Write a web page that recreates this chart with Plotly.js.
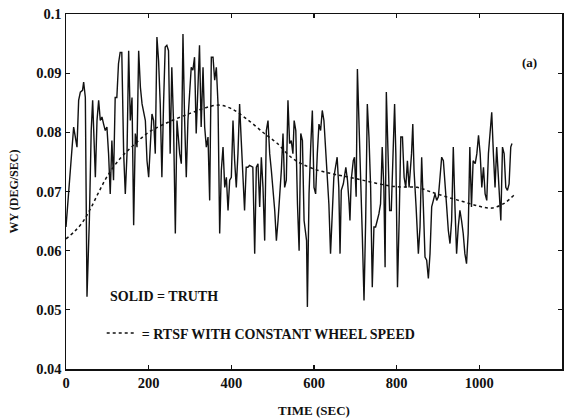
<!DOCTYPE html>
<html>
<head>
<meta charset="utf-8">
<script src="https://cdn.plot.ly/plotly-3.0.1.min.js"></script>
<style>html,body{margin:0;padding:0;background:#fff;}#chart{width:575px;height:420px;}</style>
</head>
<body>
<div id="chart"></div>
<script>
// TRUTH (solid) series
const truthTime = [0,6.5,18.5,22.6,26.6,30.6,34.7,40,42.7,46.8,50.8,56.5,61,64.5,67.7,71,75,79,83,87,91,95,99,103,107,111,115,119,123,127,131,135,139.5,143.5,147.6,151.6,155.6,159.7,163.7,167.7,171.8,175.8,180,184,192,196,200,204,208,212,216,220,224,228,232,236,240,244,248,252,256,260,264.5,268.5,
275,279,283,287,291,295,299,303,307,311,315,319,323,327,331.5,335.5,339.5,343.6,347.6,351.6,355.7,359.7,363.7,367.8,371.8,375.8,379.9,384,388,392,396,400,404,408,412,416,420,424,428,432,436,440,444,452,456.5,460.5,464.5,468.6,472.6,476.6,480.7,484.7,488.7,492.8,496.8,505,509,513,521,525,529,533,537,541,545,549,
552,556,560,564,568,572,576,580,582,584,588,592,596,600,604,608,612,616,620,624,628,632,636,640,644,648,652,656,660,663,666,671,677,681,685,687,690,695,698,702,705,709,713,717,721,725,729,733,737,741,745,749,753,757,761,765,769,772,775,779,783,787,792,795,798,802,806,810,814,818,822,826,830,
836,839,842,847,852.5,856.5,860.5,864.6,868.6,872.6,876.7,880.7,884.7,888.8,892.8,896.8,900.9,904.9,908.9,913,917,921,925,929,933,937,941,945,949,953,957,961,965,969,973,977,981,985,990,994,998,1002,1006,1010,1014,1018,1022,1026,1030,1034,1038,1042,1046,1050,1052,1056,1060,1064,1068,1072,1076,1079];
const truthValue = [0.0640,0.0699,0.0809,0.0792,0.0775,0.0854,0.0868,0.0871,0.0885,0.0859,0.0522,0.0651,0.0803,0.0854,0.0792,0.0724,0.0820,0.0854,0.0820,0.0826,0.0814,0.0803,0.0809,0.0764,0.0696,0.0786,0.0719,0.0859,0.0859,0.0916,0.0935,0.0935,0.0764,0.0696,0.0764,0.0938,0.0820,0.0859,0.0643,0.0798,0.0775,0.0938,0.0876,0.0848,0.0820,0.0752,0.0724,0.0775,0.0831,0.0820,0.0764,0.0961,0.0921,0.0848,0.0724,0.0848,0.0944,0.0947,0.0938,0.0764,0.0910,0.0820,0.0629,0.0820,
0.0764,0.0747,0.0966,0.0820,0.0724,0.0820,0.0876,0.0910,0.0905,0.0927,0.0798,0.0876,0.0947,0.0809,0.0910,0.0809,0.0775,0.0792,0.0685,0.0927,0.0927,0.0888,0.0910,0.0848,0.0629,0.0736,0.0775,0.0707,0.0724,0.0668,0.0719,0.0724,0.0820,0.0752,0.0707,0.0764,0.0848,0.0786,0.0736,0.0668,0.0741,0.0741,0.0744,0.0741,0.0595,0.0741,0.0747,0.0674,0.0758,0.0707,0.0617,0.0803,0.0820,0.0764,0.0736,0.0668,0.0617,0.0651,0.0736,0.0798,0.0707,0.0719,0.0854,0.0781,0.0786,0.0764,
0.0820,0.0803,0.0679,0.0600,0.0798,0.0786,0.0651,0.0623,0.0617,0.0505,0.0696,0.0775,0.0837,0.0707,0.0696,0.0764,0.0814,0.0803,0.0837,0.0820,0.0775,0.0730,0.0679,0.0595,0.0651,0.0724,0.0741,0.0758,0.0707,0.0595,0.0702,0.0713,0.0741,0.0719,0.0679,0.0651,0.0719,0.0752,0.0758,0.0691,0.0907,0.0820,0.0707,0.0623,0.0516,0.0651,0.0848,0.0792,0.0707,0.0538,0.0640,0.0640,0.0651,0.0662,0.0679,0.0775,0.0707,0.0572,0.0868,0.0741,0.0668,0.0668,0.0792,0.0848,0.0764,0.0538,0.0651,0.0792,0.0792,0.0724,0.0707,0.0752,0.0707,
0.0764,0.0814,0.0736,0.0674,0.0595,0.0640,0.0758,0.0674,0.0589,0.0584,0.0553,0.0595,0.0674,0.0685,0.0696,0.0685,0.0691,0.0724,0.0758,0.0752,0.0719,0.0674,0.0634,0.0612,0.0651,0.0775,0.0674,0.0595,0.0640,0.0668,0.0651,0.0629,0.0595,0.0578,0.0629,0.0775,0.0674,0.0752,0.0747,0.0764,0.0795,0.0764,0.0707,0.0741,0.0696,0.0685,0.0764,0.0803,0.0834,0.0764,0.0707,0.0775,0.0719,0.0662,0.0651,0.0775,0.0764,0.0707,0.0702,0.0713,0.0775,0.0781];

// RTSF with constant wheel speed (dashed) series
const rtsfTime  = [0,20,40,60,80,100,130,160,200,250,300,340,370,400,440,480,510,550,600,650,700,750,800,850,880,920,960,1000,1030,1060,1085];
const rtsfValue = [0.0620,0.0632,0.0648,0.0672,0.0700,0.0726,0.0755,0.0776,0.0800,0.0818,0.0832,0.0842,0.0846,0.0840,0.0821,0.0798,0.0782,0.0755,0.0738,0.0729,0.0722,0.0714,0.0708,0.0707,0.0700,0.0691,0.0683,0.0675,0.0672,0.0680,0.0695];

const xTickVals = [0,200,400,600,800,1000,1200];
const xTickText = ['0','200','400','600','800','1000','1200'];
const yTickVals = [0.04,0.05,0.06,0.07,0.08,0.09,0.1];
const yTickText = ['0.04','0.05','0.06','0.07','0.08','0.09','0.1'];

const serif = "'Liberation Serif', 'Times New Roman', serif";

const traces = [
  {x: truthTime, y: truthValue, mode: 'lines', name: 'SOLID = TRUTH', showlegend: false,
   line: {color: '#111', width: 1.4}},
  {x: rtsfTime, y: rtsfValue, mode: 'lines', name: '= RTSF WITH CONSTANT WHEEL SPEED',
   line: {color: '#111', width: 1.5, dash: '3px,3px', shape: 'spline', smoothing: 1}}
];

const axisCommon = {
  showgrid: false, zeroline: false, showline: true, linecolor: '#111', linewidth: 1.5,
  mirror: 'ticks', ticks: 'inside', ticklen: 4, tickwidth: 1.2, tickcolor: '#111',
  tickfont: {family: serif, size: 14.5, color: '#111', weight: 'bold'}
};

const layout = {
  width: 575, height: 420,
  paper_bgcolor: '#fff', plot_bgcolor: '#fff',
  margin: {l: 66, r: 13, t: 14, b: 51},
  xaxis: Object.assign({}, axisCommon, {
    range: [0, 1200], tickvals: xTickVals, ticktext: xTickText,
    title: {text: 'TIME (SEC)', font: {family: serif, size: 13, color: '#111', weight: 'bold'}, standoff: 16}
  }),
  yaxis: Object.assign({}, axisCommon, {
    range: [0.04, 0.1], tickvals: yTickVals, ticktext: yTickText,
    title: {text: 'WY (DEG/SEC)', font: {family: serif, size: 12, color: '#111', weight: 'bold'}, standoff: 15}
  }),
  showlegend: true,
  legend: {x: 0.072, y: 0.10, xanchor: 'left', yanchor: 'middle', bgcolor: 'rgba(0,0,0,0)',
           font: {family: serif, size: 14, color: '#111', weight: 'bold'}, itemwidth: 30},
  annotations: [
    {xref: 'paper', yref: 'paper', x: 0.085, y: 0.204, xanchor: 'left', yanchor: 'middle',
     text: 'SOLID = TRUTH', showarrow: false, font: {family: serif, size: 14, color: '#111', weight: 'bold'}},
    {xref: 'paper', yref: 'paper', x: 0.934, y: 0.862, xanchor: 'center', yanchor: 'middle',
     text: '(a)', showarrow: false, font: {family: serif, size: 13, color: '#111', weight: 'bold'}}
  ]
};

Plotly.newPlot('chart', traces, layout, {displayModeBar: false, staticPlot: true});
</script>
</body>
</html>
